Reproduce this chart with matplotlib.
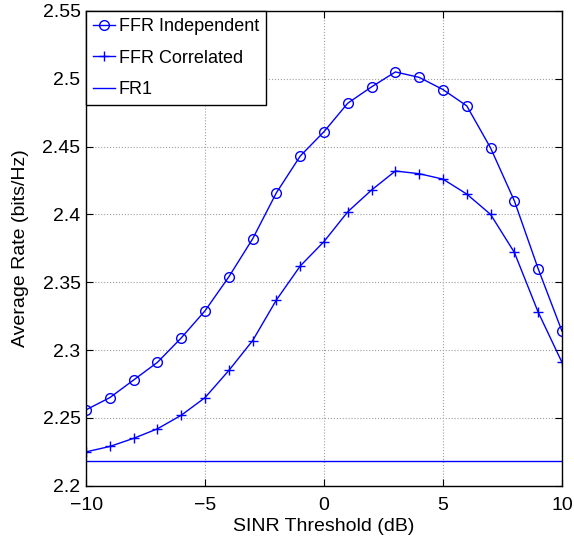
import numpy as np
import matplotlib
matplotlib.use('Agg')
import matplotlib.pyplot as plt

plt.rcParams['font.family'] = ['Liberation Sans', 'DejaVu Sans']

# data
sinr_db = np.arange(-10, 11)
ffr_indep = [2.256, 2.265, 2.278, 2.291, 2.309, 2.329, 2.354, 2.382, 2.416, 2.443, 2.461,
             2.482, 2.494, 2.505, 2.501, 2.492, 2.480, 2.449, 2.410, 2.360, 2.314]
ffr_corr = [2.225, 2.229, 2.235, 2.242, 2.252, 2.265, 2.285, 2.307, 2.337, 2.362, 2.380,
            2.402, 2.418, 2.432, 2.430, 2.426, 2.415, 2.400, 2.372, 2.328, 2.291]
fr1 = 2.2185

fig = plt.figure(figsize=(5.74, 5.44), dpi=100)
ax = fig.add_axes([0.150, 0.107, 0.829, 0.873])

ax.plot(sinr_db, ffr_indep, color='blue', lw=1.0, marker='o', ms=7, mfc='none',
        mew=1.0, label='FFR Independent')
ax.plot(sinr_db, ffr_corr, color='blue', lw=1.0, marker='+', ms=7, mew=1.0,
        label='FFR Correlated')
ax.plot(sinr_db, np.full(len(sinr_db), fr1), color='blue', lw=1.0, label='FR1')

ax.set_xlim(-10, 10)
ax.set_ylim(2.2, 2.55)
ax.set_xticks([-10, -5, 0, 5, 10])
ax.set_yticks(np.arange(2.2, 2.551, 0.05))
ax.set_yticklabels(['2.2', '2.25', '2.3', '2.35', '2.4', '2.45', '2.5', '2.55'])
ax.tick_params(direction='in', labelsize=14, length=5, top=True, right=True)
ax.tick_params(axis='x', pad=8)
ax.tick_params(axis='y', pad=4)
ax.grid(True, linestyle=':', color='#a0a0a0', lw=0.8)
for s in ax.spines.values():
    s.set_linewidth(1.0)

ax.set_xlabel('SINR Threshold (dB)', fontsize=14, labelpad=3)
ax.set_ylabel('Average Rate (bits/Hz)', fontsize=14, labelpad=10)

leg = ax.legend(loc='upper left', fontsize=13, fancybox=False, framealpha=1,
                edgecolor='black', borderaxespad=0.0, handlelength=1.2,
                handletextpad=0.2, labelspacing=0.8, borderpad=0.4)
leg.get_frame().set_linewidth(1.0)

fig.savefig('out.png', dpi=100)
